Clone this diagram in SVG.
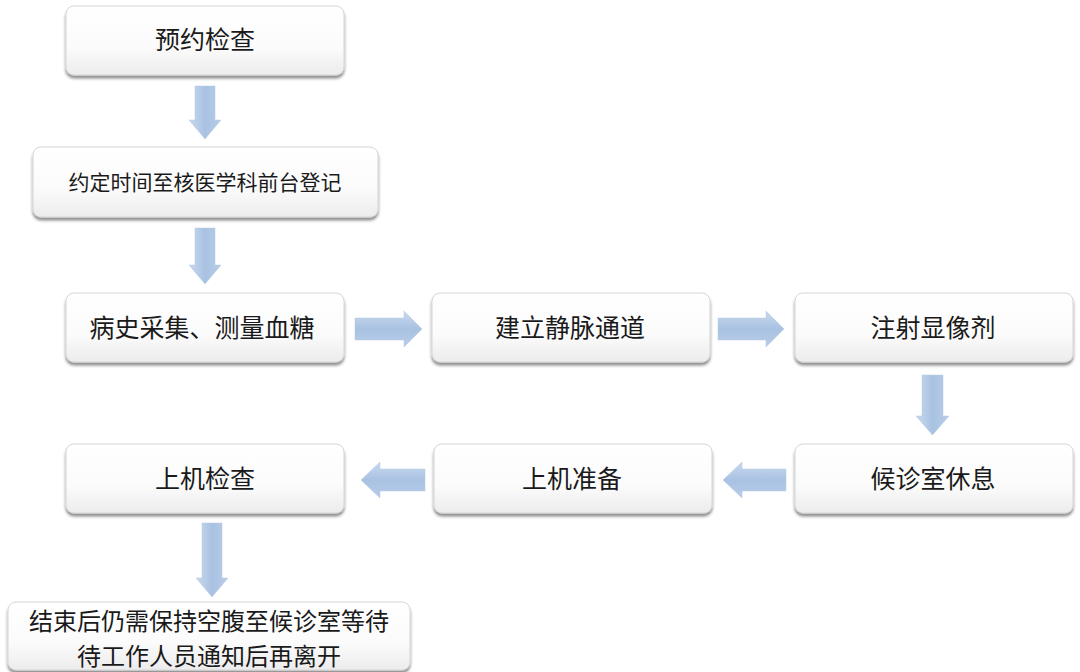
<svg xmlns="http://www.w3.org/2000/svg" width="1080" height="672" viewBox="0 0 1080 672">
<defs>
<linearGradient id="boxg" x1="0" y1="0" x2="0" y2="1">
<stop offset="0" stop-color="#ffffff"/>
<stop offset="0.6" stop-color="#fbfbfb"/>
<stop offset="1" stop-color="#ececec"/>
</linearGradient>
<linearGradient id="arrv" x1="0" y1="0" x2="1" y2="0">
<stop offset="0" stop-color="#c9d9ee"/>
<stop offset="0.5" stop-color="#a9c2e2"/>
<stop offset="1" stop-color="#b8cce8"/>
</linearGradient>
<linearGradient id="arrh" x1="0" y1="0" x2="0" y2="1">
<stop offset="0" stop-color="#c9d9ee"/>
<stop offset="0.5" stop-color="#a9c2e2"/>
<stop offset="1" stop-color="#b8cce8"/>
</linearGradient>
<filter id="sh" x="-5%" y="-10%" width="110%" height="130%">
<feGaussianBlur in="SourceAlpha" stdDeviation="1.5"/>
<feOffset dx="0" dy="3" result="b"/>
<feComponentTransfer><feFuncA type="linear" slope="0.45"/></feComponentTransfer>
<feMerge><feMergeNode/><feMergeNode in="SourceGraphic"/></feMerge>
</filter>
</defs>
<style>
.box{fill:url(#boxg);stroke:#d6d6d6;stroke-width:1;filter:url(#sh)}
.t{font-family:"Noto Sans CJK SC","Microsoft YaHei",sans-serif;font-size:25px;fill:#1a1a1a;text-anchor:middle}
.s{font-size:21px}
.m{font-size:24px}
.av{fill:url(#arrv);stroke:#b4c8e4;stroke-width:0.5}
.ah{fill:url(#arrh);stroke:#b4c8e4;stroke-width:0.5}
</style>
<rect width="1080" height="672" fill="#ffffff"/>
<g id="connectors">
<path class="av" d="M195,86 H215 V120 H221 L205,139 L189,120 H195 Z"/>
<path class="av" d="M195,228 H215 V265 H221 L205,284 L189,265 H195 Z"/>
<path class="ah" d="M355,318 H404 V311 L422,329 L404,347 V340 H355 Z"/>
<path class="ah" d="M718,318 H766 V311 L784,329 L766,347 V340 H718 Z"/>
<path class="av" d="M922,375 H943 V416 H949 L932.5,435 L916,416 H922 Z"/>
<path class="ah" d="M786,469 H742 V462 L723,480 L742,498 V491 H786 Z"/>
<path class="ah" d="M425,469 H380 V462 L361,480 L380,498 V491 H425 Z"/>
<path class="av" d="M202,523 H222 V578 H228 L212,597 L196,578 H202 Z"/>
</g>
<g id="n1"><rect class="box" x="66" y="6" width="278" height="69" rx="8"/><text class="t" x="205" y="49">预约检查</text></g>
<g id="n2"><rect class="box" x="33" y="147" width="345" height="70" rx="8"/><text class="t s" x="205" y="190">约定时间至核医学科前台登记</text></g>
<g id="n3"><rect class="box" x="66" y="293" width="278" height="69" rx="8"/><text class="t" x="202" y="337">病史采集、测量血糖</text></g>
<g id="n4"><rect class="box" x="432" y="293" width="278" height="69" rx="8"/><text class="t" x="570" y="337">建立静脉通道</text></g>
<g id="n5"><rect class="box" x="795" y="293" width="278" height="69" rx="8"/><text class="t" x="933" y="337">注射显像剂</text></g>
<g id="n6"><rect class="box" x="795" y="444" width="278" height="69" rx="8"/><text class="t" x="933" y="488">候诊室休息</text></g>
<g id="n7"><rect class="box" x="434" y="444" width="278" height="69" rx="8"/><text class="t" x="572" y="488">上机准备</text></g>
<g id="n8"><rect class="box" x="66" y="444" width="278" height="69" rx="8"/><text class="t" x="205" y="488">上机检查</text></g>
<g id="n9"><rect class="box" x="8" y="602" width="402" height="68" rx="8"/><text class="t m" x="209" y="630"><tspan x="209" y="630">结束后仍需保持空腹至候诊室等待</tspan><tspan x="209" y="665">待工作人员通知后再离开</tspan></text></g>
</svg>
